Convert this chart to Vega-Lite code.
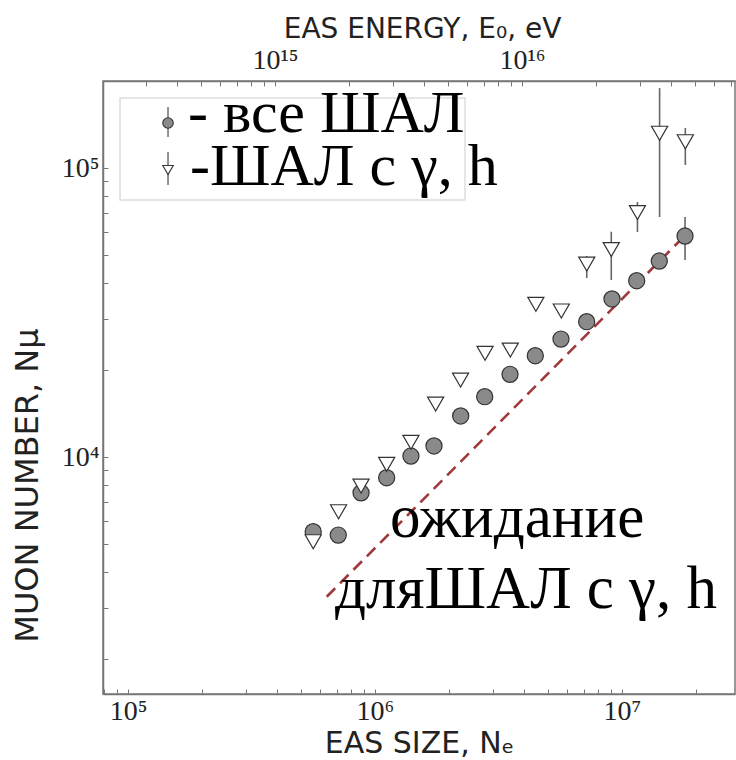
{
  "$schema": "https://vega.github.io/schema/vega-lite/v6.json",
  "width": 632,
  "height": 613,
  "autosize": {"type": "none"},
  "padding": {"left": 103, "top": 81, "right": 1, "bottom": 66},
  "background": "white",
  "config": {
    "view": {"stroke": "#777", "strokeWidth": 1.5},
    "axis": {
      "domainColor": "#777",
      "domainWidth": 1.5,
      "tickColor": "#777",
      "tickSize": -5,
      "tickWidth": 1,
      "labelFont": "Liberation Serif",
      "labelFontSize": 28,
      "labelColor": "#222",
      "titleFont": "DejaVu Sans",
      "titleFontSize": 30,
      "titleFontWeight": "normal",
      "titleColor": "#222",
      "grid": false,
      "labelFlush": false,
      "labelOverlap": false,
      "labelBound": false
    }
  },
  "datasets": {
    "pts": [
      {"series": "все ШАЛ", "Ne": 562000, "Nmu": 5515},
      {"series": "все ШАЛ", "Ne": 710000, "Nmu": 5370},
      {"series": "все ШАЛ", "Ne": 878000, "Nmu": 7520},
      {"series": "все ШАЛ", "Ne": 1115000, "Nmu": 8480},
      {"series": "все ШАЛ", "Ne": 1398000, "Nmu": 10080},
      {"series": "все ШАЛ", "Ne": 1733000, "Nmu": 10920},
      {"series": "все ШАЛ", "Ne": 2223000, "Nmu": 13870},
      {"series": "все ШАЛ", "Ne": 2781000, "Nmu": 16170},
      {"series": "все ШАЛ", "Ne": 3521000, "Nmu": 19330},
      {"series": "все ШАЛ", "Ne": 4457000, "Nmu": 22410},
      {"series": "все ШАЛ", "Ne": 5662000, "Nmu": 25600},
      {"series": "все ШАЛ", "Ne": 7195000, "Nmu": 29400},
      {"series": "все ШАЛ", "Ne": 9110000, "Nmu": 35220},
      {"series": "все ШАЛ", "Ne": 11470000, "Nmu": 40740},
      {"series": "все ШАЛ", "Ne": 14160000, "Nmu": 47670},
      {"series": "все ШАЛ", "Ne": 18000000, "Nmu": 58170, "lo": 48060, "hi": 67680},
      {"series": "ШАЛ с γ, h", "Ne": 562000, "Nmu": 5093},
      {"series": "ШАЛ с γ, h", "Ne": 712000, "Nmu": 6467},
      {"series": "ШАЛ с γ, h", "Ne": 878000, "Nmu": 7938},
      {"series": "ШАЛ с γ, h", "Ne": 1115000, "Nmu": 9434},
      {"series": "ШАЛ с γ, h", "Ne": 1398000, "Nmu": 11243},
      {"series": "ШАЛ с γ, h", "Ne": 1760000, "Nmu": 15253},
      {"series": "ШАЛ с γ, h", "Ne": 2220000, "Nmu": 18467},
      {"series": "ШАЛ с γ, h", "Ne": 2790000, "Nmu": 22847},
      {"series": "ШАЛ с γ, h", "Ne": 3530000, "Nmu": 23457},
      {"series": "ШАЛ с γ, h", "Ne": 4480000, "Nmu": 33768},
      {"series": "ШАЛ с γ, h", "Ne": 5680000, "Nmu": 32007},
      {"series": "ШАЛ с γ, h", "Ne": 7200000, "Nmu": 46540, "lo": 41630, "hi": 49600},
      {"series": "ШАЛ с γ, h", "Ne": 9050000, "Nmu": 52240, "lo": 40970, "hi": 60200},
      {"series": "ШАЛ с γ, h", "Ne": 11550000, "Nmu": 70150, "lo": 60050, "hi": 76260},
      {"series": "ШАЛ с γ, h", "Ne": 14200000, "Nmu": 131900, "lo": 67680, "hi": 189000},
      {"series": "ШАЛ с γ, h", "Ne": 18050000, "Nmu": 123300, "lo": 102400, "hi": 137500}
    ],
    "expect": [
      {"Ne": 637500, "Nmu": 3285},
      {"Ne": 17820000, "Nmu": 57940}
    ],
    "energy": [
      {"E": 1000000000000000}
    ],
    "one": [
      {}
    ]
  },
  "layer": [
    {
      "data": {"name": "energy"},
      "mark": {"type": "point", "opacity": 0},
      "encoding": {
        "x": {
          "field": "E",
          "type": "quantitative",
          "scale": {"type": "log", "domain": [201200000000000, 72860000000000000], "nice": false, "zero": false},
          "axis": {
            "orient": "top",
            "title": "EAS ENERGY, E₀, eV",
            "titleFontSize": 28,
            "titleX": 319,
            "titleAlign": "center",
            "titleY": -44,
            "titleBaseline": "alphabetic",
            "labelPadding": 12,
            "values": [300000000000000, 400000000000000, 500000000000000, 600000000000000, 700000000000000, 800000000000000, 900000000000000, 1000000000000000, 2000000000000000, 3000000000000000, 4000000000000000, 5000000000000000, 6000000000000000, 7000000000000000, 8000000000000000, 9000000000000000, 10000000000000000, 20000000000000000, 30000000000000000, 40000000000000000, 50000000000000000, 60000000000000000, 70000000000000000],
            "labelExpr": "datum.value == 1000000000000000 ? '10¹⁵' : datum.value == 10000000000000000 ? '10¹⁶' : ''"
          }
        }
      }
    },
    {
      "layer": [
        {
          "data": {"name": "one"},
          "mark": {"type": "rect", "fill": "white"},
          "encoding": {
            "x": {
              "datum": 676000,
              "type": "quantitative",
              "scale": {"type": "log", "domain": [79200, 28680000], "nice": false, "zero": false},
              "axis": {
                "orient": "bottom",
                "title": "EAS SIZE,  Nₑ",
                "titleY": 58,
                "titleBaseline": "alphabetic",
                "labelPadding": 8,
                "values": [80000, 90000, 100000, 200000, 300000, 400000, 500000, 600000, 700000, 800000, 900000, 1000000, 2000000, 3000000, 4000000, 5000000, 6000000, 7000000, 8000000, 9000000, 10000000, 20000000],
                "labelExpr": "datum.value == 100000 ? '10⁵' : datum.value == 1000000 ? '10⁶' : datum.value == 10000000 ? '10⁷' : ''"
              }
            },
            "x2": {"datum": 27300000},
            "y": {
              "datum": 4544,
              "type": "quantitative",
              "scale": {"type": "log", "domain": [1514, 200000], "nice": false, "zero": false},
              "axis": {
                "orient": "left",
                "title": "MUON NUMBER, Nμ",
                "titleFontSize": 32,
                "titleX": -76,
                "titleY": 404,
                "titleAngle": 270,
                "titleAlign": "center",
                "titleBaseline": "middle",
                "labelPadding": 9,
                "values": [2000, 3000, 4000, 5000, 6000, 7000, 8000, 9000, 10000, 20000, 30000, 40000, 50000, 60000, 70000, 80000, 90000, 100000, 200000],
                "labelExpr": "datum.value == 10000 ? '10⁴' : datum.value == 100000 ? '10⁵' : ''"
              }
            },
            "y2": {"datum": 2622}
          }
        },
        {
          "data": {"name": "one"},
          "mark": {"type": "rect", "fill": "white", "stroke": "#dddddd", "strokeWidth": 1.5},
          "encoding": {
            "x": {"datum": 92820, "type": "quantitative"},
            "x2": {"datum": 2314000},
            "y": {"datum": 174700, "type": "quantitative"},
            "y2": {"datum": 77500}
          }
        },
        {
          "data": {"name": "expect"},
          "mark": {"type": "line", "color": "#a0393c", "strokeWidth": 2.6, "strokeDash": [12, 7]},
          "encoding": {
            "x": {"field": "Ne", "type": "quantitative"},
            "y": {"field": "Nmu", "type": "quantitative"}
          }
        },
        {
          "data": {"name": "pts"},
          "transform": [{"filter": "datum.lo != null"}],
          "mark": {"type": "rule", "color": "#666", "strokeWidth": 1.6},
          "encoding": {
            "x": {"field": "Ne", "type": "quantitative"},
            "y": {"field": "lo", "type": "quantitative"},
            "y2": {"field": "hi"}
          }
        },
        {
          "data": {"name": "pts"},
          "mark": {"type": "point", "filled": true, "stroke": "#333", "strokeWidth": 1.2, "opacity": 1, "size": 260},
          "encoding": {
            "x": {"field": "Ne", "type": "quantitative"},
            "y": {"field": "Nmu", "type": "quantitative"},
            "shape": {
              "field": "series",
              "type": "nominal",
              "scale": {"domain": ["все ШАЛ", "ШАЛ с γ, h"], "range": ["circle", "triangle-down"]},
              "legend": null
            },
            "fill": {
              "field": "series",
              "type": "nominal",
              "scale": {"domain": ["все ШАЛ", "ШАЛ с γ, h"], "range": ["#8a8a8a", "#ffffff"]},
              "legend": null
            }
          }
        },
        {
          "data": {"name": "one"},
          "mark": {"type": "rule", "color": "#666", "strokeWidth": 1.4},
          "encoding": {
            "x": {"datum": 145200, "type": "quantitative"},
            "y": {"datum": 162600, "type": "quantitative"},
            "y2": {"datum": 128000}
          }
        },
        {
          "data": {"name": "one"},
          "mark": {"type": "rule", "color": "#666", "strokeWidth": 1.4},
          "encoding": {
            "x": {"datum": 145200, "type": "quantitative"},
            "y": {"datum": 113600, "type": "quantitative"},
            "y2": {"datum": 87340}
          }
        },
        {
          "data": {"name": "one"},
          "mark": {"type": "point", "shape": "circle", "filled": true, "fill": "#8a8a8a", "stroke": "#333", "strokeWidth": 1.1, "opacity": 1, "size": 110},
          "encoding": {
            "x": {"datum": 145200, "type": "quantitative"},
            "y": {"datum": 143100, "type": "quantitative"}
          }
        },
        {
          "data": {"name": "one"},
          "mark": {"type": "point", "shape": "triangle-down", "filled": true, "fill": "#ffffff", "stroke": "#333", "strokeWidth": 1.1, "opacity": 1, "size": 110},
          "encoding": {
            "x": {"datum": 145200, "type": "quantitative"},
            "y": {"datum": 98420, "type": "quantitative"}
          }
        },
        {
          "data": {"name": "one"},
          "mark": {"type": "text", "font": "Liberation Serif", "fontSize": 60, "align": "left", "baseline": "alphabetic", "color": "#000"},
          "encoding": {
            "x": {"datum": 175000, "type": "quantitative"},
            "y": {"datum": 133600, "type": "quantitative"},
            "text": {"value": "- все ШАЛ"}
          }
        },
        {
          "data": {"name": "one"},
          "mark": {"type": "text", "font": "Liberation Serif", "fontSize": 60, "align": "left", "baseline": "alphabetic", "color": "#000"},
          "encoding": {
            "x": {"datum": 178200, "type": "quantitative"},
            "y": {"datum": 87340, "type": "quantitative"},
            "text": {"value": "-ШАЛ с γ, h"}
          }
        },
        {
          "data": {"name": "one"},
          "mark": {"type": "text", "font": "Liberation Serif", "fontSize": 61, "align": "left", "baseline": "alphabetic", "color": "#000"},
          "encoding": {
            "x": {"datum": 1150000, "type": "quantitative"},
            "y": {"datum": 5287, "type": "quantitative"},
            "text": {"value": "ожидание"}
          }
        },
        {
          "data": {"name": "one"},
          "mark": {"type": "text", "font": "Liberation Serif", "fontSize": 61, "align": "left", "baseline": "alphabetic", "color": "#000"},
          "encoding": {
            "x": {"datum": 689000, "type": "quantitative"},
            "y": {"datum": 3002, "type": "quantitative"},
            "text": {"value": "дляШАЛ с γ, h"}
          }
        }
      ]
    }
  ],
  "resolve": {"scale": {"x": "independent"}}
}
